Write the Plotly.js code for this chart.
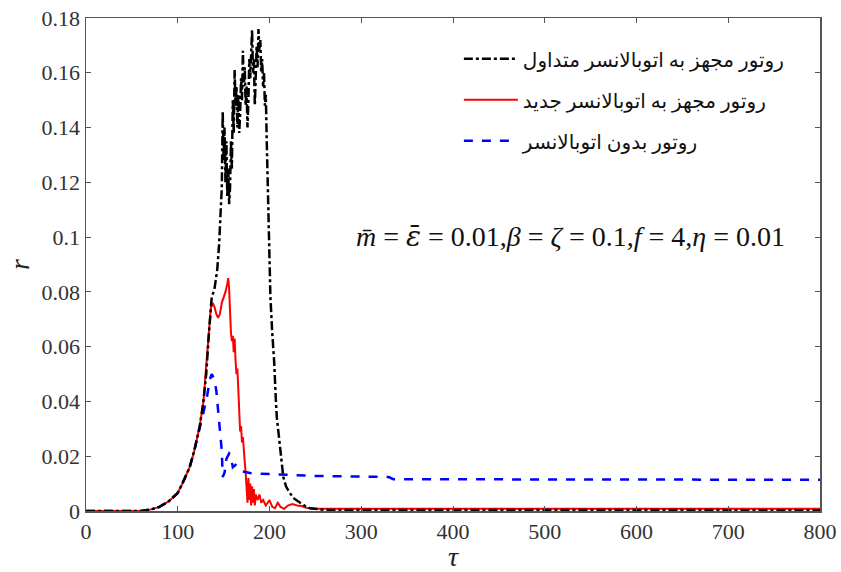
<!DOCTYPE html>
<html>
<head>
<meta charset="utf-8">
<script src="https://cdn.plot.ly/plotly-3.0.1.min.js"></script>
<style>html,body{margin:0;padding:0;background:#fff;}#chart{width:841px;height:572px;}</style>
</head>
<body>
<div id="chart"></div>
<script>
// Conventional auto-balancer (black dash-dot)
const tauConv = [0,60,70,80,90,100,105,110,113,118,124,128,131,134,137,140,143,145,147,148,149,150,151,152,153,154,155,156,157,158,159,160,161,162,163,164,165,166,167,168,169,170,171,172,173,174,175,176,177,178,179,180,181,182,183,184,185,186,187,188,189,190,191,192,193,194,195,196,197,198,199,200,201,203,205,207,208,210,212,215,218,222,227,233,238,244,260,800];
const rConv = [0,0,0.0005,0.0015,0.0035,0.0066,0.010,0.0135,0.016,0.022,0.031,0.040,0.050,0.065,0.078,0.081,0.088,0.097,0.108,0.118,0.146,0.128,0.140,0.120,0.135,0.115,0.125,0.112,0.118,0.135,0.125,0.150,0.138,0.161,0.148,0.155,0.140,0.152,0.138,0.145,0.158,0.150,0.168,0.155,0.162,0.148,0.155,0.140,0.150,0.165,0.158,0.170,0.1756,0.160,0.165,0.148,0.158,0.170,0.162,0.176,0.168,0.172,0.160,0.165,0.155,0.160,0.148,0.152,0.135,0.122,0.105,0.090,0.078,0.065,0.055,0.040,0.034,0.028,0.022,0.0125,0.009,0.0066,0.0045,0.003,0.002,0.001,0.0004,0.0003];

// New auto-balancer (red solid)
const tauNew = [0,60,70,80,90,100,105,110,113,118,124,128,131,134,136,138,140,142,144,146,148,150,152,154,155,156,157,158,159,160,161,162,163,164,165,166,167,168,169,170,171,172,173,174,175,176,177,178,179,180,181,182,183,184,185,187,189,191,193,196,200,203,206,209,212,216,220,225,230,235,240,250,800];
const rNew = [0,0,0.0005,0.0015,0.0035,0.0066,0.010,0.0135,0.016,0.022,0.031,0.040,0.052,0.066,0.074,0.076,0.0745,0.072,0.0705,0.072,0.076,0.078,0.080,0.083,0.085,0.081,0.071,0.065,0.062,0.064,0.058,0.063,0.055,0.050,0.052,0.044,0.035,0.029,0.031,0.025,0.027,0.021,0.018,0.014,0.009,0.003,0.012,0.004,0.010,0.002,0.009,0.003,0.008,0.002,0.006,0.004,0.006,0.003,0.004,0.002,0.004,0.0015,0.001,0.003,0.0015,0.0008,0.002,0.0025,0.002,0.0018,0.0012,0.0008,0.0008];

// Rotor without auto-balancer (blue dashed)
const tauNone = [0,60,70,80,90,100,105,110,113,118,124,128,132,135,137,140,142,145,148,149,151,153,156,158,160,163,167,170,180,200,250,330,335,800];
const rNone = [0,0,0.0005,0.0015,0.0035,0.0066,0.010,0.0135,0.016,0.022,0.030,0.036,0.042,0.048,0.050,0.048,0.044,0.033,0.022,0.0124,0.014,0.019,0.021,0.020,0.016,0.0168,0.015,0.0145,0.0138,0.0135,0.0128,0.0124,0.0116,0.0114];

const names = ['روتور مجهز به اتوبالانسر متداول','روتور مجهز به اتوبالانسر جدید','روتور بدون اتوبالانسر'];
const xTicks = [0,100,200,300,400,500,600,700,800];
const yTicks = [0,0.02,0.04,0.06,0.08,0.1,0.12,0.14,0.16,0.18];
const yTickText = ['0','0.02','0.04','0.06','0.08','0.1','0.12','0.14','0.16','0.18'];

const serif = 'Liberation Serif, Times New Roman, DejaVu Sans, serif';

const traces = [
  {x: tauNew, y: rNew, mode:'lines', name: names[1], legendrank: 2, legendgroup:'b',
   line:{color:'#ff0000', width:2}},
  {x: tauNone, y: rNone, mode:'lines', name: names[2], legendrank: 3, legendgroup:'c',
   line:{color:'#0000ff', width:2.5, dash:'dash'}},
  {x: tauConv, y: rConv, mode:'lines', name: names[0], legendrank: 1, legendgroup:'a',
   line:{color:'#000000', width:2.5, dash:'dashdot'}}
];

const axisCommon = {
  showline:true, mirror:'ticks', linecolor:'#555', linewidth:1.5,
  ticks:'inside', ticklen:5, tickcolor:'#555', tickwidth:1,
  showgrid:false, zeroline:false,
  tickfont:{family:serif, size:22, color:'#333'}
};

const layout = {
  width:841, height:572,
  margin:{l:86, r:21, t:18, b:61},
  paper_bgcolor:'#fff', plot_bgcolor:'#fff',
  showlegend:true,
  legend:{x:0.508, y:0.957, xanchor:'left', yanchor:'top', bgcolor:'rgba(0,0,0,0)',
          font:{family:serif, size:20, color:'#111'}, tracegroupgap:12, itemwidth:54},
  xaxis: Object.assign({}, axisCommon, {range:[0,800], tickvals:xTicks, ticktext:xTicks.map(String),
          title:{text:'<i>τ</i>', font:{family:serif, size:28, color:'#222'}, standoff:0}}),
  yaxis: Object.assign({}, axisCommon, {range:[0,0.18], tickvals:yTicks, ticktext:yTickText,
          title:{text:'<i>r</i>', font:{family:serif, size:28, color:'#222'}, standoff:4}}),
  annotations:[{
    xref:'paper', yref:'paper', x:0.955, y:0.556, xanchor:'right', yanchor:'middle', showarrow:false,
    text:'<i>m̄</i> = <span style="font-family:DejaVu Serif"><i>ε̄</i></span> = 0.01,<i>β</i> = <i>ζ</i> = 0.1,<i>f</i> = 4,<i>η</i> = 0.01',
    font:{family:serif, size:28, color:'#111'}
  }]
};

Plotly.newPlot('chart', traces, layout, {staticPlot:true, displayModeBar:false});
</script>
</body>
</html>
